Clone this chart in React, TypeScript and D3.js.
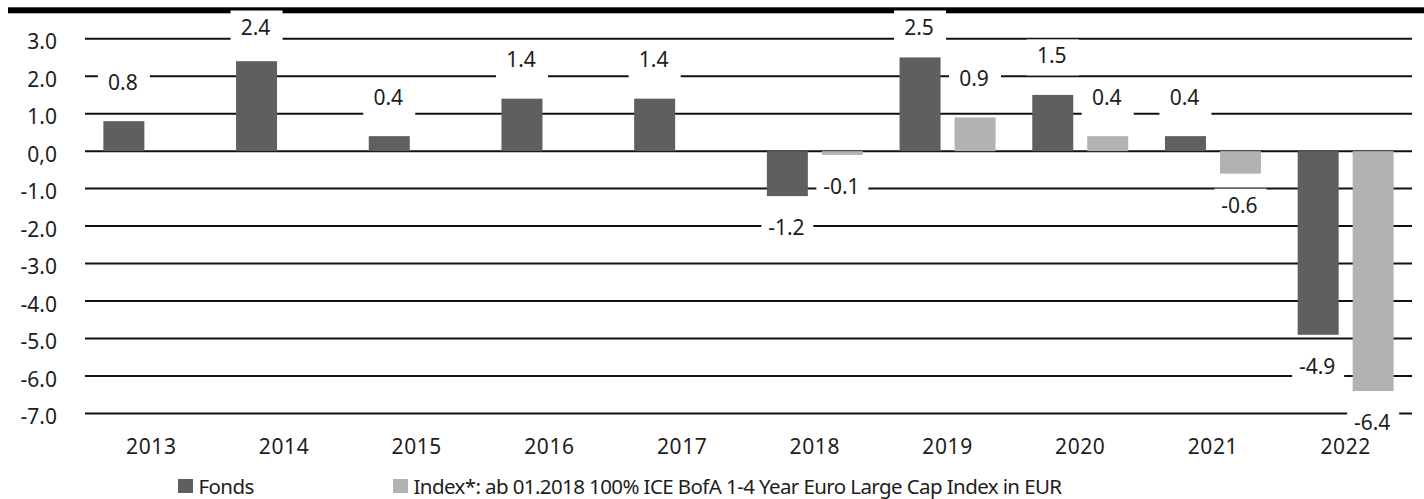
import { FC, useMemo } from "react";
import * as d3 from "d3";

const WIDTH = 1424;
const HEIGHT = 499;
const PLOT = { left: 85, right: 1412, top: 38.7, bottom: 413.5 };
const FONT = "'Noto Sans', 'Open Sans', sans-serif";
const FONT_SIZE = 21;
const TEXT_COLOR = "#1d1d1b";

// data
const years = ["2013", "2014", "2015", "2016", "2017", "2018", "2019", "2020", "2021", "2022"];
const fondsValues = [0.8, 2.4, 0.4, 1.4, 1.4, -1.2, 2.5, 1.5, 0.4, -4.9];
const indexValues: (number | null)[] = [null, null, null, null, null, -0.1, 0.9, 0.4, -0.6, -6.4];
const yTicks = [3, 2, 1, 0, -1, -2, -3, -4, -5, -6, -7];
const yTickLabels = ["3.0", "2.0", "1.0", "0,0", "-1.0", "-2.0", "-3.0", "-4.0", "-5.0", "-6.0", "-7.0"];
const seriesNames = ["Fonds", "Index"];
const seriesColors = ["#5f5f5e", "#b2b2b2"];
const legendLabels = ["Fonds", "Index*: ab 01.2018 100% ICE BofA 1-4 Year Euro Large Cap Index in EUR"];

const LABEL_BOX_W = 52;

const App: FC = () => {
  const xScale = useMemo(
    () => d3.scaleBand().domain(years).range([PLOT.left, PLOT.right]).paddingInner(0).paddingOuter(0),
    []
  );
  const subScale = useMemo(
    () => d3.scaleBand().domain(seriesNames).range([0, xScale.bandwidth()]).paddingInner(0.2545).paddingOuter(0.334),
    [xScale]
  );
  const yScale = useMemo(() => d3.scaleLinear().domain([-7, 3]).range([PLOT.bottom, PLOT.top]), []);
  // plain hyphen for negatives, like the reference
  const fmt = (v: number) => d3.format(".1f")(v).replace("\u2212", "-");

  const points = years.flatMap((year, i) => {
    const list: { year: string; series: string; value: number; color: string }[] = [];
    list.push({ year, series: "Fonds", value: fondsValues[i], color: seriesColors[0] });
    const iv = indexValues[i];
    if (iv !== null) list.push({ year, series: "Index", value: iv, color: seriesColors[1] });
    return list;
  });

  const grid = yTicks.map((t, i) => (
    <g key={i}>
      <line x1={PLOT.left} x2={PLOT.right} y1={yScale(t)} y2={yScale(t)} stroke="#111" strokeWidth={2} />
      <text x={57} y={yScale(t) + 10.5} textAnchor="end" fontSize={FONT_SIZE} fill={TEXT_COLOR}>
        {yTickLabels[i]}
      </text>
    </g>
  ));

  const bars = points.map((d, i) => {
    const x = (xScale(d.year) ?? 0) + (subScale(d.series) ?? 0);
    const y0 = yScale(0);
    const y1 = yScale(d.value);
    return (
      <rect
        key={i}
        x={x}
        y={Math.min(y0, y1)}
        width={subScale.bandwidth()}
        height={Math.abs(y1 - y0)}
        fill={d.color}
      />
    );
  });

  const labels = points.map((d, i) => {
    const cx = (xScale(d.year) ?? 0) + (subScale(d.series) ?? 0) + subScale.bandwidth() / 2;
    const end = yScale(d.value);
    // label centre: above positive bars, below negative ones
    const cy = d.value >= 0 ? Math.max(end - 39, 27) : end + 31.5;
    return (
      <g key={i}>
        <rect x={cx - LABEL_BOX_W / 2} y={cy - 16.5} width={LABEL_BOX_W} height={36} fill="#ffffff" />
        <text x={cx - 1} y={cy + 7.5} textAnchor="middle" fontSize={FONT_SIZE} fill={TEXT_COLOR}>
          {fmt(d.value)}
        </text>
      </g>
    );
  });

  const xLabels = years.map((year) => (
    <text
      key={year}
      x={(xScale(year) ?? 0) + xScale.bandwidth() / 2}
      y={453.5}
      textAnchor="middle"
      fontSize={FONT_SIZE}
      letterSpacing={0.6}
      fill={TEXT_COLOR}
    >
      {year}
    </text>
  ));

  const legendX = [178, 393];
  const legend = legendLabels.map((label, i) => (
    <g key={i} transform={`translate(${legendX[i]},479)`}>
      <rect x={0} y={0} width={15} height={14} fill={seriesColors[i]} />
      <text x={20.5} y={14.5} fontSize={20.5} letterSpacing={-0.6} fill={TEXT_COLOR}>
        {label}
      </text>
    </g>
  ));

  return (
    <svg
      width={WIDTH}
      height={HEIGHT}
      style={{ position: "absolute", left: 0, top: 0, display: "block" }}
      fontFamily={FONT}
    >
      <rect x={0} y={0} width={WIDTH} height={HEIGHT} fill="#ffffff" />
      <rect x={8} y={7.3} width={WIDTH - 8} height={6} fill="#000000" />
      {grid}
      {bars}
      {labels}
      {xLabels}
      {legend}
    </svg>
  );
};

export default App;
